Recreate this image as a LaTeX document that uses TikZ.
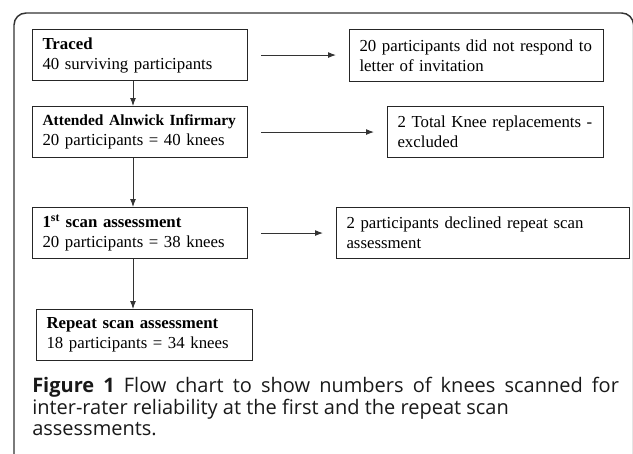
\documentclass[tikz,border=0pt]{standalone}
\usepackage{fontspec}
\setmainfont{Liberation Serif}
\newfontfamily\capfont{Open Sans}
\usetikzlibrary{arrows.meta}
\begin{document}
\begin{tikzpicture}[x=0.75pt,y=-0.75pt,
  box/.style={draw=black!85, line width=0.8pt, anchor=north west, inner xsep=7.5pt, inner ysep=0pt,
    align=left, font=\fontsize{12.6}{15}\selectfont},
  arr/.style={-{Latex[length=6pt,width=4.5pt]}, line width=0.75pt, draw=black!80},
  side/.style={arr, shorten <=9.75pt, shorten >=9.75pt},
  captxt/.style={anchor=base west, inner sep=0pt, font=\capfont\fontsize{15}{17}\selectfont, text=black!90},
]
\useasboundingbox (0,0) rectangle (633,454);
\draw[line width=1.1pt, draw=black!80, rounded corners=9pt] (14,480) -- (14,13) -- (633.6,13) -- (633.6,480);

\node[box, minimum width=161.25pt, text width=146.25pt, minimum height=38.25pt] (A) at (32,29)
  {\textbf{Traced}\\40 surviving participants};
\node[box, minimum width=161.25pt, text width=146.25pt, minimum height=38.25pt] (B) at (32,106)
  {{\fontsize{11.6}{15}\selectfont\bfseries Attended Alnwick Infirmary}\\20 participants = 40 knees};
\node[box, minimum width=161.25pt, text width=146.25pt, minimum height=38.25pt] (C) at (32,207)
  {\textbf{1\textsuperscript{st} scan assessment}\\20 participants = 38 knees};
\node[box, minimum width=162pt, text width=147pt, minimum height=38.25pt] (D) at (36,309)
  {\textbf{Repeat scan assessment}\\18 participants = 34 knees};
\node[box, minimum width=190.5pt, text width=175.5pt, minimum height=39pt] (E) at (349,29)
  {20 participants did not respond to\\letter of invitation};
\node[box, minimum width=162pt, text width=147pt, minimum height=38.25pt] (F) at (387,106)
  {2 Total Knee replacements -\\excluded};
\node[box, minimum width=219.75pt, text width=204.75pt, minimum height=38.25pt] (G) at (336,207)
  {2 participants declined repeat scan\\assessment};

\coordinate (ax) at (133,0);
\draw[arr] (A.south -| ax) -- (B.north -| ax);
\draw[arr] (B.south -| ax) -- (C.north -| ax);
\draw[arr] (C.south -| ax) -- (D.north -| ax);
\draw[side] (A.east) -- (A.east -| E.west);
\draw[side] (B.east) -- (B.east -| F.west);
\draw[side] (C.east) -- (C.east -| G.west);

\node[captxt] (L1) at (32,392.5) {\makebox[440pt][s]{\textbf{Figure 1} Flow chart to show numbers of knees scanned for}};
\node[captxt] (L2) at (32,414) {inter-rater reliability at the first and the repeat scan};
\node[captxt] (L3) at (32,435.5) {assessments.};
\end{tikzpicture}
\end{document}
